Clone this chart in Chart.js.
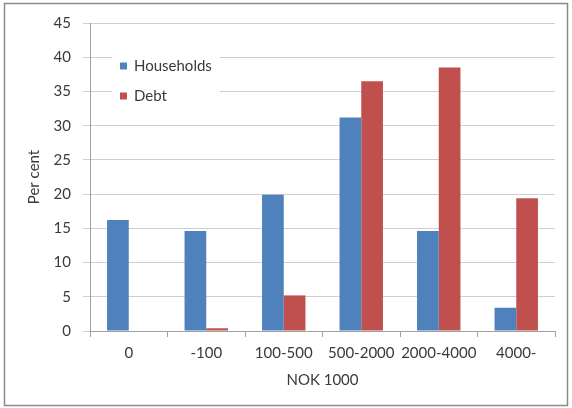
<!DOCTYPE html>
<html>
<head>
<meta charset="utf-8">
<script src="https://cdn.jsdelivr.net/npm/chart.js@4.4.1/dist/chart.umd.min.js"></script>
<style>
  html, body { margin: 0; padding: 0; background: #ffffff; }
  #wrap { position: absolute; left: 0; top: 0; width: 572px; height: 408px; }
</style>
</head>
<body>
<div id="wrap"><canvas id="c" width="572" height="408"></canvas></div>
<script>
// Wealth brackets (NOK 1000) and shares in per cent
const categories = ['0', '-100', '100-500', '500-2000', '2000-4000', '4000-'];
const households = [16.2, 14.6, 19.9, 31.2, 14.6, 3.4];
const debt = [0, 0.4, 5.2, 36.5, 38.5, 19.4];
const yTicks = [0, 5, 10, 15, 20, 25, 30, 35, 40, 45];

const FONT = 'Lato, "Open Sans", sans-serif';
const TEXT = '#3a3a3a';

// Outer frame and white background
const framePlugin = {
  id: 'frame',
  beforeDraw(chart) {
    const ctx = chart.ctx;
    ctx.save();
    ctx.fillStyle = '#ffffff';
    ctx.fillRect(0, 0, chart.width, chart.height);
    ctx.strokeStyle = '#8a8a8a';
    ctx.lineWidth = 1.5;
    ctx.strokeRect(4.5, 3.5, 563, 402);
    ctx.restore();
  }
};

// Legend placed inside the plot area
const innerLegend = {
  id: 'innerLegend',
  afterDatasetsDraw(chart) {
    const ctx = chart.ctx;
    ctx.save();
    ctx.fillStyle = '#ffffff';
    ctx.fillRect(112, 49, 108, 56);
    chart.data.datasets.forEach((ds, i) => {
      const y = 66 + i * 30;
      ctx.fillStyle = ds.backgroundColor;
      ctx.fillRect(120, y - 3.5, 7, 7);
      ctx.fillStyle = TEXT;
      ctx.font = '15px ' + FONT;
      ctx.textBaseline = 'middle';
      ctx.textAlign = 'left';
      ctx.fillText(ds.label, 134, y);
    });
    ctx.restore();
  }
};

new Chart(document.getElementById('c'), {
  type: 'bar',
  data: {
    labels: categories,
    datasets: [
      { label: 'Households', data: households, backgroundColor: '#4F81BD' },
      { label: 'Debt', data: debt, backgroundColor: '#C0504D' }
    ]
  },
  options: {
    responsive: false,
    animation: false,
    devicePixelRatio: 1,
    layout: { padding: { left: 0, top: 23, right: 17, bottom: 15 } },
    datasets: { bar: { categoryPercentage: 0.56, barPercentage: 1.0 } },
    plugins: { legend: { display: false }, tooltip: { enabled: false } },
    scales: {
      x: {
        grid: { display: true, drawOnChartArea: false, drawTicks: true, tickLength: 6, color: '#a0a0a0', offset: true },
        border: { display: true, color: '#a0a0a0' },
        ticks: { color: TEXT, font: { family: FONT, size: 15 }, padding: 7, maxRotation: 0, minRotation: 0, autoSkip: false },
        title: { display: true, text: 'NOK 1000', color: TEXT, font: { family: FONT, size: 15 }, padding: { top: 8 } },
        afterFit(scale) { scale.height = 62; }
      },
      y: {
        min: 0, max: 45,
        afterBuildTicks(scale) { scale.ticks = yTicks.map(v => ({ value: v })); },
        grid: { color: '#cfcfcf', tickLength: 7, drawTicks: true },
        border: { display: true, color: '#a0a0a0' },
        ticks: { color: TEXT, font: { family: FONT, size: 15 }, padding: 12 },
        title: { display: true, text: 'Per cent', color: TEXT, font: { family: FONT, size: 15 }, padding: { top: 25, bottom: 0 } },
        afterFit(scale) { scale.width = 90; }
      }
    }
  },
  plugins: [framePlugin, innerLegend]
});
</script>
</body>
</html>
